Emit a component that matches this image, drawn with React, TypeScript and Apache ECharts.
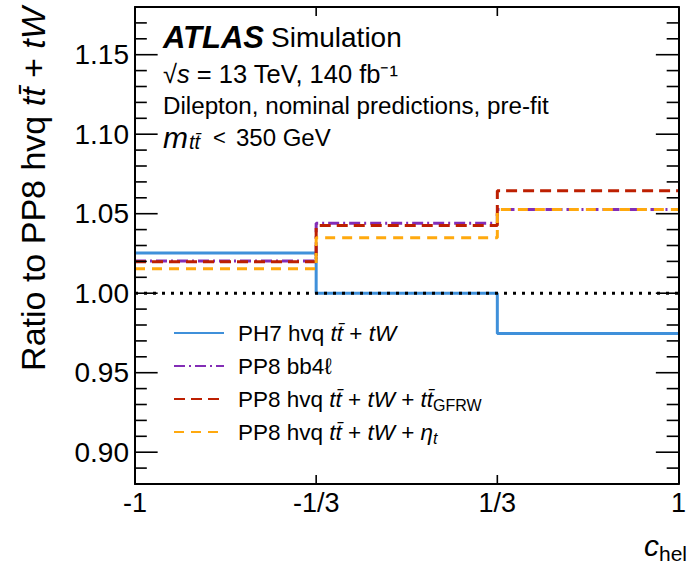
import React, { useEffect, useRef } from "react";
import * as echarts from "echarts";

// ---- data ----
const binEdges = [-1, -1 / 3, 1 / 3, 1];
const xTickLabels = ["-1", "-1/3", "1/3", "1"];
const yMin = 0.88;
const yMax = 1.18;
const yTickSlots = [
  "0.88", "0.89", "0.90", "0.91", "0.92", "0.93", "0.94", "0.95", "0.96", "0.97", "0.98",
  "0.99", "1.00", "1.01", "1.02", "1.03", "1.04", "1.05", "1.06", "1.07", "1.08", "1.09",
  "1.10", "1.11", "1.12", "1.13", "1.14", "1.15", "1.16", "1.17", "1.18",
];
const yMajorLabels = ["0.90", "0.95", "1.00", "1.05", "1.10", "1.15"];
const ph7Hvq = [1.0253, 1.0, 0.9746];
const pp8Bb4l = [1.0202, 1.044, 1.0526];
const pp8Gfrw = [1.0198, 1.0426, 1.0644];
const pp8EtaT = [1.0154, 1.0348, 1.0526];
const seriesNames = [
  "PH7 hvq tt + tW",
  "PP8 bb4l",
  "PP8 hvq tt + tW + tt GFRW",
  "PP8 hvq tt + tW + eta_t",
];

const FONT = "'Liberation Sans', Arial, Helvetica, sans-serif";
const TTBAR = "t\u0074\u0304";

// layout (pixels)
const W = 689;
const H = 566;
const GRID = { left: 135, right: 2, top: 7, bottom: 82 };
const MAJOR_LEN = 23;
const MINOR_LEN = 12;
const XTICK_LEN = 9;

function stepData(vals: number[]) {
  const pts: number[][] = vals.map((v, i) => [binEdges[i], v]);
  pts.push([binEdges[binEdges.length - 1], vals[vals.length - 1]]);
  return pts;
}

const legendRich: Record<string, string> = {
  [seriesNames[0]]: `{g| }PH7 hvq {i|${TTBAR}} + {i|tW}`,
  [seriesNames[1]]: `{g| }PP8 bb4\u2113`,
  [seriesNames[2]]: `{g| }PP8 hvq {i|${TTBAR}} + {i|tW} + {i|${TTBAR}}{sub|GFRW}`,
  [seriesNames[3]]: `{g| }PP8 hvq {i|${TTBAR}} + {i|tW} + {i|\u03b7}{isub|t}`,
};

export default function App() {
  const ref = useRef<HTMLDivElement>(null);
  useEffect(() => {
    if (!ref.current) return;
    const chart = echarts.init(ref.current, undefined, { renderer: "svg" });
    const axisLine = { show: true, onZero: false, lineStyle: { color: "#000", width: 2 } };
    const isMajor = (i: number) => yMajorLabels.indexOf(yTickSlots[i]) >= 0;
    const xMin = binEdges[0];
    const xMax = binEdges[binEdges.length - 1];
    const plotW = W - GRID.left - GRID.right;
    const plotH = H - GRID.top - GRID.bottom;
    const dxPerPx = (xMax - xMin) / plotW;
    const dyPerPx = (yMax - yMin) / plotH;

    // each tick is a tiny two-point line series in data units (drawn through the chart's scales)
    const tickSeg = (a: number[], b: number[], k: number) => ({
      name: "tick" + k,
      type: "line",
      xAxisIndex: 0,
      yAxisIndex: 0,
      data: [a, b],
      showSymbol: false,
      symbol: "none",
      silent: true,
      clip: false,
      lineStyle: { color: "#000", width: 1.6, type: "solid" },
      z: 6,
    });
    const tickSeries: any[] = [];
    let k = 0;
    yTickSlots.forEach((s, i) => {
      const v = Number(s);
      const len = (isMajor(i) ? MAJOR_LEN : MINOR_LEN) * dxPerPx;
      tickSeries.push(tickSeg([xMin, v], [xMin + len, v], k++));
      tickSeries.push(tickSeg([xMax - len, v], [xMax, v], k++));
    });
    binEdges.slice(1, -1).forEach((e) => {
      tickSeries.push(tickSeg([e, yMin], [e, yMin + XTICK_LEN * dyPerPx], k++));
      tickSeries.push(tickSeg([e, yMax - XTICK_LEN * dyPerPx], [e, yMax], k++));
    });

    const lineSeries = (name: string, vals: number[], color: string, type: any) => ({
      name,
      type: "line",
      step: "end",
      xAxisIndex: 0,
      yAxisIndex: 0,
      data: stepData(vals),
      showSymbol: false,
      symbol: "none",
      lineStyle: { color, width: 3, type },
      itemStyle: { color },
      z: 3,
    });
    const yCat = (position: string, labels: boolean) => ({
      type: "category",
      data: yTickSlots,
      boundaryGap: false,
      position,
      axisLine,
      splitLine: { show: false },
      axisTick: { show: false },
      axisLabel: labels
        ? {
            show: true,
            interval: (i: number) => isMajor(i),
            fontSize: 28,
            fontFamily: FONT,
            color: "#000",
            margin: 6,
          }
        : { show: false },
      z: 5,
    });
    const xCat = (position: string, labels: boolean) => ({
      type: "category",
      data: xTickLabels,
      boundaryGap: false,
      position,
      axisLine,
      splitLine: { show: false },
      axisTick: { show: false },
      axisLabel: labels
        ? { show: true, interval: 0, fontSize: 27, fontFamily: FONT, color: "#000", margin: 5 }
        : { show: false },
      z: 5,
    });
    const option: any = {
      animation: false,
      grid: { ...GRID, show: false },
      xAxis: [
        { type: "value", min: xMin, max: xMax, show: false },
        xCat("bottom", true),
        xCat("top", false),
      ],
      yAxis: [
        { type: "value", min: yMin, max: yMax, show: false },
        yCat("left", true),
        yCat("right", false),
      ],
      legend: {
        data: seriesNames,
        orient: "vertical",
        left: 168,
        top: 314,
        itemWidth: 50,
        itemHeight: 14,
        itemGap: 5,
        selectedMode: false,
        itemStyle: { color: "rgba(0,0,0,0)", borderWidth: 0, opacity: 0 },
        formatter: (name: string) => legendRich[name] || name,
        textStyle: {
          fontFamily: FONT,
          fontSize: 22.5,
          color: "#000",
          lineHeight: 28,
          rich: {
            g: { width: 9, fontSize: 22.5, lineHeight: 28 },
            i: { fontStyle: "italic", fontSize: 22.5, fontFamily: FONT, lineHeight: 28 },
            sub: { fontSize: 16, fontFamily: FONT, verticalAlign: "bottom", lineHeight: 17 },
            isub: { fontSize: 16, fontStyle: "italic", fontFamily: FONT, verticalAlign: "bottom", lineHeight: 17 },
          },
        },
      },
      series: [
        lineSeries(seriesNames[0], ph7Hvq, "#3f90da", "solid"),
        lineSeries(seriesNames[1], pp8Bb4l, "#832db6", [11, 4, 2, 4]),
        lineSeries(seriesNames[2], pp8Gfrw, "#bd1f01", [11, 6]),
        lineSeries(seriesNames[3], pp8EtaT, "#ffa90e", [10, 7]),
        {
          name: "ref",
          type: "line",
          xAxisIndex: 0,
          yAxisIndex: 0,
          data: [
            [xMin, 1],
            [xMax, 1],
          ],
          showSymbol: false,
          symbol: "none",
          lineStyle: { color: "#000", width: 3, type: [3, 6] },
          z: 4,
          silent: true,
        },
        ...tickSeries,
      ],
      graphic: [
        {
          type: "text",
          x: 33,
          y: 189,
          rotation: Math.PI / 2,
          style: {
            text: `Ratio to PP8 hvq {i|${TTBAR}} + {i|tW}`,
            fontFamily: FONT,
            fontSize: 34,
            fill: "#000",
            align: "center",
            verticalAlign: "middle",
            rich: {
              i: { fontStyle: "italic", fontSize: 34, fontFamily: FONT },
            },
          },
        },
        {
          type: "text",
          x: 687,
          y: 545,
          style: {
            text: "{c|c}{s|hel}",
            align: "right",
            verticalAlign: "middle",
            rich: {
              c: { fontStyle: "italic", fontSize: 30, fontFamily: FONT, lineHeight: 30 },
              s: { fontSize: 21, fontFamily: FONT, verticalAlign: "bottom", lineHeight: 21, padding: [0, 0, -4, 0] },
            },
          },
        },
        {
          type: "text",
          x: 163,
          y: 37,
          style: {
            text: "{b|ATLAS}{sp| }{r|Simulation}",
            verticalAlign: "middle",
            align: "left",
            rich: {
              b: { fontStyle: "italic", fontWeight: "bold", fontSize: 31, fontFamily: FONT },
              sp: { width: 7, fontSize: 28 },
              r: { fontSize: 28, fontFamily: FONT },
            },
          },
        },
        {
          type: "text",
          x: 163,
          y: 74,
          style: {
            text: "\u221a{i|s} = 13 TeV, 140 fb\u207b\u00b9",
            fontFamily: FONT,
            fontSize: 25.5,
            fill: "#000",
            verticalAlign: "middle",
            rich: { i: { fontStyle: "italic", fontSize: 25.5, fontFamily: FONT } },
          },
        },
        {
          type: "text",
          x: 163,
          y: 105,
          style: {
            text: "Dilepton, nominal predictions, pre-fit",
            fontFamily: FONT,
            fontSize: 24.2,
            fill: "#000",
            verticalAlign: "middle",
          },
        },
        {
          type: "text",
          x: 163,
          y: 137,
          style: {
            text: `{i|m}{sub|${TTBAR}}{g1| }{lt|<}{g2| }350 GeV`,
            fontFamily: FONT,
            fontSize: 24,
            fill: "#000",
            verticalAlign: "middle",
            rich: {
              i: { fontStyle: "italic", fontSize: 30, fontFamily: FONT, lineHeight: 30 },
              sub: {
                fontStyle: "italic",
                fontSize: 20,
                fontFamily: FONT,
                verticalAlign: "bottom",
                lineHeight: 20,
                padding: [0, 0, 0, 1],
              },
              g1: { width: 13, fontSize: 24 },
              lt: { fontSize: 22, fontFamily: FONT },
              g2: { width: 10, fontSize: 24 },
            },
          },
        },
      ],
    };
    chart.setOption(option);
    return () => chart.dispose();
  }, []);
  return (
    <div
      ref={ref}
      style={{ position: "fixed", left: 0, top: 0, width: W, height: H, background: "#fff" }}
    />
  );
}
